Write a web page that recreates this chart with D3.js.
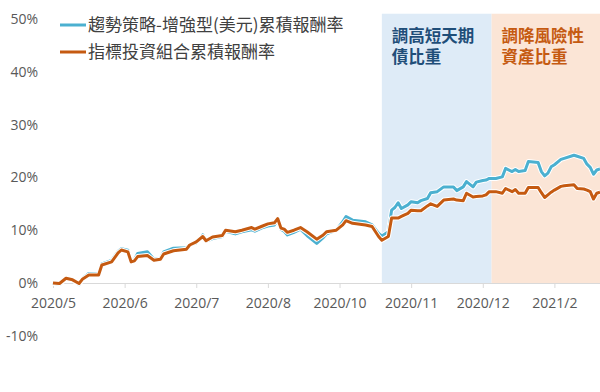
<!DOCTYPE html>
<html>
<head>
<meta charset="utf-8">
<script src="https://cdn.jsdelivr.net/npm/d3@7"></script>
<style>
  body { margin: 0; background: #fff; }
  svg { display: block; font-family: "Open Sans", "Noto Sans CJK TC", sans-serif; }
</style>
</head>
<body>
<svg></svg>
<script>
// x position is a trading-day offset, one tick label every 22 days
let tickLabels = ["2020/5","2020/6","2020/7","2020/8","2020/10","2020/11","2020/12","2021/2"];
let yTicks = [-10, 0, 10, 20, 30, 40, 50];

let days = [0,2,4,6,8,9,11,14,15,18,20,21,23,24,25,26,29,31,33,34,37,41,42,44,46,47,49,52,53,56,
  58,61,62,64,66,68,69,70,71,72,74,76,78,81,83,84,87,89,90,92,96,98,100,101,103,104,105,106,107,109,
  110,112,113,115,116,118,120,123,124,126,127,129,130,132,133,134,136,138,139,141,142,143,145,146,149,150,151,152,153,154,
  156,157,160,161,163,164,165,166,167,168];

// 趨勢策略-增強型(美元)累積報酬率 (%)
let trendVals = [0,-0.3,0.9,0.6,-0.3,0.8,1.8,1.7,3.6,4.3,6.0,6.5,6.2,4.2,4.4,5.6,5.9,4.5,4.7,5.9,6.6,6.7,7.2,7.6,9.1,7.9,8.4,8.8,9.8,9.3,
  9.7,10.1,9.8,10.4,10.8,11.0,11.9,10.2,9.8,9.1,9.6,10.2,9.0,7.5,8.6,9.3,10.0,11.6,12.6,11.9,11.6,11.0,9.4,8.9,9.7,13.8,14.3,15.2,14.1,14.8,
  15.4,15.2,15.6,16.0,17.1,17.3,18.2,18.2,17.5,18.2,19.2,18.2,19.1,19.4,19.5,19.8,19.8,20.1,21.7,21.1,21.5,21.1,21.3,23.0,22.8,21.1,20.3,20.8,22.0,22.4,
  23.4,23.6,24.2,24.0,23.6,22.5,21.9,20.6,21.4,21.6];

// 指標投資組合累積報酬率 (%)
let benchVals = [0,-0.1,0.9,0.6,-0.1,0.7,1.5,1.5,3.4,4.0,5.7,6.25,5.9,4.0,4.2,5.0,5.2,4.3,4.5,5.5,6.1,6.4,7.2,7.8,8.8,8.0,8.7,9.0,10.0,9.7,
  10.0,10.5,10.2,10.7,11.2,11.4,12.2,10.4,10.2,9.6,10.0,10.5,9.7,8.3,9.1,9.7,10.0,11.0,11.8,11.3,11.0,10.7,8.8,8.1,8.8,12.3,12.3,12.3,12.6,13.2,
  13.8,13.7,13.7,14.6,15.0,14.5,15.7,15.9,15.7,15.6,17.0,16.3,16.4,16.5,16.7,17.3,17.3,17.0,17.9,17.3,17.7,17.0,17.0,18.1,18.1,17.1,16.2,16.7,17.2,17.6,
  18.3,18.4,18.6,17.9,17.8,17.6,17.3,15.9,17.0,17.2];

let periods = [
  {from: 101, to: 134.7, fill: "#deebf7", color: "#1f4e79", lines: ["調高短天期","債比重"]},
  {from: 134.7, to: 168, fill: "#fbe5d6", color: "#c55a11", lines: ["調降風險性","資產比重"]}
];
let shadeTop = 51;

let width = 600, height = 392;
let xScale = d3.scaleLinear().domain([0, 168]).range([53, 600]),
    yScale = d3.scaleLinear().domain([-10, 50]).range([335.8, 19]);

let svg = d3.select("svg").attr("width", width).attr("height", height);

// shaded periods
svg.selectAll("rect.period")
  .data(periods)
  .enter()
  .append("rect")
  .attr("class", "period")
  .attr("x", d => xScale(d.from))
  .attr("y", yScale(shadeTop))
  .attr("width", d => xScale(d.to) - xScale(d.from))
  .attr("height", yScale(0) - yScale(shadeTop))
  .attr("fill", d => d.fill);

periods.forEach(p => {
  p.lines.forEach((s, i) => {
    svg.append("text")
      .attr("x", xScale(p.from) + 10)
      .attr("y", 42 + i * 21)
      .attr("fill", p.color)
      .style("font-family", "'DejaVu Sans', 'Noto Sans CJK TC', sans-serif")
      .style("font-weight", "bold")
      .style("font-size", "16.5px")
      .text(s);
  });
});

// y labels
svg.append("g")
  .attr("transform", "translate(38,0)")
  .call(d3.axisLeft(yScale).tickValues(yTicks).tickFormat(d => d + "%").tickSize(0))
  .call(g => g.select(".domain").remove())
  .selectAll("text")
  .attr("x", 0)
  .style("font-family", "'Open Sans', sans-serif")
  .style("font-size", "14px")
  .attr("fill", "#595959");

// x axis
let xAxis = d3.axisBottom(xScale)
  .tickValues(tickLabels.map((d, i) => i * 22))
  .tickFormat((d, i) => tickLabels[i])
  .tickSize(5)
  .tickSizeOuter(0)
  .tickPadding(10);

svg.append("g")
  .attr("transform", `translate(0,${yScale(0)})`)
  .call(xAxis)
  .call(g => g.select(".domain").attr("stroke", "#d9d9d9"))
  .call(g => g.selectAll(".tick line").attr("stroke", "#d9d9d9"))
  .selectAll("text")
  .style("font-family", "'Open Sans', sans-serif")
  .style("font-size", "14px")
  .attr("fill", "#595959");

// lines
let line = vals => d3.line()
  .x((d, i) => xScale(days[i]))
  .y(d => yScale(d))(vals);

[{vals: trendVals, color: "#4bb0d0"}, {vals: benchVals, color: "#c55a11"}].forEach(s => {
  svg.append("path")
    .attr("d", line(s.vals))
    .attr("fill", "none")
    .attr("stroke", "#fff")
    .attr("stroke-width", 5)
    .attr("stroke-linejoin", "round");
  svg.append("path")
    .attr("d", line(s.vals))
    .attr("fill", "none")
    .attr("stroke", s.color)
    .attr("stroke-width", 3)
    .attr("stroke-linejoin", "round");
});

// legend
let legend = [
  {name: "趨勢策略-增強型(美元)累積報酬率", color: "#4bb0d0"},
  {name: "指標投資組合累積報酬率", color: "#c55a11"}
];
let lg = svg.selectAll("g.legend")
  .data(legend)
  .enter()
  .append("g")
  .attr("class", "legend")
  .attr("transform", (d, i) => `translate(60,${25 + i * 27})`);

lg.append("line")
  .attr("x1", 0).attr("x2", 26)
  .attr("stroke", d => d.color)
  .attr("stroke-width", 3);

lg.append("text")
  .attr("x", 28)
  .attr("dy", "0.36em")
  .text(d => d.name)
  .style("font-family", "'Noto Sans CJK TC', sans-serif")
  .style("font-size", "17px")
  .attr("fill", "#404040");
</script>
</body>
</html>
